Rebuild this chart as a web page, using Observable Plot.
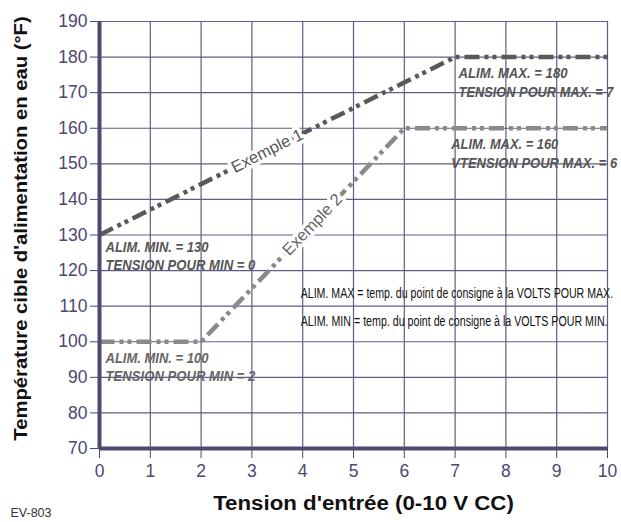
<!DOCTYPE html>
<html>
<head>
<meta charset="utf-8">
<script src="https://cdn.jsdelivr.net/npm/d3@7"></script>
<script src="https://cdn.jsdelivr.net/npm/@observablehq/plot@0.6"></script>
<style>
  html, body { margin: 0; padding: 0; background: #fff; }
  #chart { width: 621px; height: 522px; }
</style>
</head>
<body>
<div id="chart"></div>
<script>
// ---- data ----
const ex1Volts = [0, 7, 10];
const ex1Temps = [130, 180, 180];
const ex2Volts = [0, 2, 6, 10];
const ex2Temps = [100, 100, 160, 160];
const xTicks = [0, 1, 2, 3, 4, 5, 6, 7, 8, 9, 10];
const yTicks = [70, 80, 90, 100, 110, 120, 130, 140, 150, 160, 170, 180, 190];

const xTitle = "Tension d'entrée (0-10 V CC)";
const yTitle = "Température cible d'alimentation en eau (°F)";
const codeLabel = "EV-803";
const ex1Label = "Exemple 1";
const ex2Label = "Exemple 2";
const minLabel1 = ["ALIM. MIN. = 130", "TENSION POUR MIN = 0"];
const minLabel2 = ["ALIM. MIN. = 100", "TENSION POUR MIN = 2"];
const maxLabel1 = ["ALIM. MAX. = 180", "TENSION POUR MAX. = 7"];
const maxLabel2 = ["ALIM. MAX. = 160", "VTENSION POUR MAX. = 6"];
const defLines = [
  "ALIM. MAX = temp. du point de consigne à la VOLTS POUR MAX.",
  "ALIM. MIN = temp. du point de consigne à la VOLTS POUR MIN."
];

const ex1 = ex1Volts.map((v, i) => ({v, t: ex1Temps[i]}));
const ex2 = ex2Volts.map((v, i) => ({v, t: ex2Temps[i]}));

// ---- styles ----
const FONT = "'Liberation Sans', Arial, Helvetica, sans-serif";
const gridColor = "#615c86";
const axisColor = "#4e4a6e";
const tickColor = "#4b4870";
const dash = "15,5,4,4,4,5";
const annoColor = "#555555";

const anno = (lines, v, t, dx, dy0, dy1, fill) => [
  Plot.text([lines[0]], {x: () => v, y: () => t, dx, dy: dy0, textAnchor: "start",
    fontSize: 14.5, fontWeight: "bold", fontStyle: "italic", fill: fill || annoColor}),
  Plot.text([lines[1]], {x: () => v, y: () => t, dx, dy: dy1, textAnchor: "start",
    fontSize: 14.5, fontWeight: "bold", fontStyle: "italic", fill: fill || annoColor})
];

const plot = Plot.plot({
  width: 621,
  height: 522,
  marginLeft: 99,
  marginRight: 14,
  marginTop: 21,
  marginBottom: 74,
  style: {fontFamily: FONT, color: tickColor, background: "#fff"},
  x: {domain: [0, 10]},
  y: {domain: [70, 190]},
  marks: [
    Plot.gridX(xTicks, {stroke: gridColor, strokeOpacity: 1, strokeWidth: 1.2}),
    Plot.gridY(yTicks, {stroke: gridColor, strokeOpacity: 1, strokeWidth: 1.2}),
    Plot.axisX(xTicks, {tickSize: 10, tickPadding: 6, fontSize: 17.5, label: null, tickFormat: d => String(d)}),
    Plot.axisY(yTicks, {tickSize: 9, tickPadding: 3, fontSize: 17.5, label: null, tickFormat: d => String(d)}),
    // annotations (behind lines)
    ...anno(minLabel1, 0, 130, 6, 12.5, 30),
    ...anno(minLabel2, 0, 100, 6, 17, 35, "#666666"),
    ...anno(maxLabel1, 7, 180, 3.5, 16, 35.5),
    ...anno(maxLabel2, 6, 160, 47, 16.5, 35.5),
    Plot.text([defLines[0]], {x: () => 4, y: () => 110, dx: -2, dy: -12.5, textAnchor: "start", fontSize: 14.5, fill: "#111"}),
    Plot.text([defLines[1]], {x: () => 4, y: () => 110, dx: -2, dy: 15.5, textAnchor: "start", fontSize: 14.5, fill: "#111"}),
    // lines
    Plot.line(ex2, {x: "v", y: "t", stroke: "#8a8a8a", strokeWidth: 4.5, strokeDasharray: dash, strokeLinecap: "butt", strokeLinejoin: "miter"}),
    Plot.line(ex1, {x: "v", y: "t", stroke: "#595959", strokeWidth: 4.5, strokeDasharray: dash, strokeLinecap: "butt", strokeLinejoin: "miter"}),
    Plot.text([ex1Label], {x: () => 3.3, y: () => 153.6, rotate: -26.6, fontSize: 16.5, fill: "#555", stroke: "white", strokeWidth: 7}),
    Plot.text([ex2Label], {x: () => 4.19, y: () => 132.9, rotate: -46.4, fontSize: 16.5, fill: "#666", stroke: "white", strokeWidth: 7}),
    // axis frame lines
    Plot.ruleX([0], {stroke: axisColor, strokeWidth: 4}),
    Plot.ruleY([70], {stroke: axisColor, strokeWidth: 4}),
    // titles
    Plot.text([xTitle], {frameAnchor: "bottom", textAnchor: "middle", dx: 10, dy: 61, fontSize: 21, fontWeight: "bold", fill: "#111"}),
    Plot.text([yTitle], {frameAnchor: "left", textAnchor: "middle", dx: -79, dy: -6.5, rotate: -90, fontSize: 19, fontWeight: "bold", fill: "#111"}),
    Plot.text([codeLabel], {frameAnchor: "bottom-left", textAnchor: "start", dx: -89, dy: 68, fontSize: 12.5, fill: "#333"})
  ]
});

document.getElementById("chart").appendChild(plot);

// condensed type, as in the original: squeeze labels horizontally to their measured widths
const fitWidths = new Map([
  [minLabel1[0], 103], [minLabel1[1], 150],
  [minLabel2[0], 103], [minLabel2[1], 150],
  [maxLabel1[0], 109], [maxLabel1[1], 155],
  [maxLabel2[0], 107], [maxLabel2[1], 166],
  [defLines[0], 313], [defLines[1], 307],
  [yTitle, 425], [xTitle, 301]
]);
d3.select(plot).selectAll("text").each(function() {
  const w = fitWidths.get(this.textContent);
  if (!w) return;
  const natural = this.getComputedTextLength();
  if (!natural) return;
  const s = w / natural;
  const tr = this.getAttribute("transform") || "";
  this.setAttribute("transform", (tr + ` scale(${s.toFixed(4)},1)`).trim());
});
</script>
</body>
</html>
